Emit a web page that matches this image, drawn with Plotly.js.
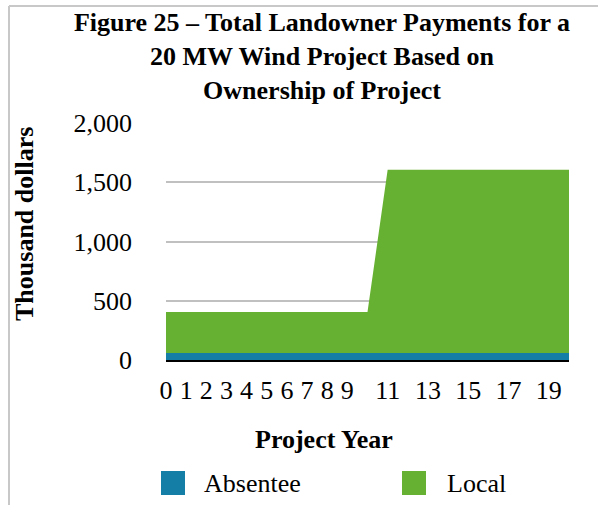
<!DOCTYPE html>
<html>
<head>
<meta charset="utf-8">
<script src="https://cdn.plot.ly/plotly-3.0.1.min.js"></script>
<style>
html, body { margin: 0; padding: 0; background: #ffffff; }
#chart { width: 598px; height: 505px; }
</style>
</head>
<body>
<div id="chart"></div>
<script>
// ---- data ----
const years = [0, 1, 2, 3, 4, 5, 6, 7, 8, 9, 10, 11, 12, 13, 14, 15, 16, 17, 18, 19, 20];
const absentee = [60, 60, 60, 60, 60, 60, 60, 60, 60, 60, 60, 60, 60, 60, 60, 60, 60, 60, 60, 60, 60];
const local = [405, 405, 405, 405, 405, 405, 405, 405, 405, 405, 405, 1605, 1605, 1605, 1605, 1605, 1605, 1605, 1605, 1605, 1605];
const xTickVals = [0, 1, 2, 3, 4, 5, 6, 7, 8, 9, 11, 13, 15, 17, 19];
const xTickText = ['0', '1', '2', '3', '4', '5', '6', '7', '8', '9', '11', '13', '15', '17', '19'];
const yTickVals = [0, 500, 1000, 1500, 2000];
const yTickText = ['0', '500', '1,000', '1,500', '2,000'];
const seriesNames = ['Absentee', 'Local'];
const colors = ['#157ea6', '#67b132'];

// ---- layout geometry (pixels) ----
const W = 598, H = 505, L = 166, R = 29, T = 123, B = 145;
const PW = W - L - R, PH = H - T - B;
const px2x = p => (p - L) / PW;
const py2y = p => (H - B - p) / PH;

const serif = 'Liberation Serif, Times New Roman, serif';

const traces = [
  {
    x: years, y: local, name: seriesNames[1], type: 'scatter', mode: 'lines',
    fill: 'tozeroy', fillcolor: colors[1], line: {width: 0, color: colors[1]},
    hoverinfo: 'skip', showlegend: false
  },
  {
    x: years, y: absentee, name: seriesNames[0], type: 'scatter', mode: 'lines',
    fill: 'tozeroy', fillcolor: colors[0], line: {width: 0, color: colors[0]},
    hoverinfo: 'skip', showlegend: false
  }
];

const legendY = 483;
const shapes = [
  // frame (top and left edge)
  {type: 'line', xref: 'paper', yref: 'paper', x0: px2x(9), x1: px2x(600), y0: py2y(6), y1: py2y(6),
   line: {color: '#c8c8c8', width: 2}},
  {type: 'line', xref: 'paper', yref: 'paper', x0: px2x(9), x1: px2x(9), y0: py2y(6), y1: py2y(510),
   line: {color: '#c8c8c8', width: 2}},
  // legend swatches
  {type: 'rect', xref: 'paper', yref: 'paper', x0: px2x(161), x1: px2x(185), y0: py2y(495), y1: py2y(471),
   fillcolor: colors[0], line: {width: 0}},
  {type: 'rect', xref: 'paper', yref: 'paper', x0: px2x(402), x1: px2x(426), y0: py2y(495), y1: py2y(471),
   fillcolor: colors[1], line: {width: 0}}
];

const annotations = [
  {text: 'Thousand dollars', xref: 'paper', yref: 'paper', x: px2x(24), y: py2y(224),
   xanchor: 'center', yanchor: 'middle', textangle: -90, showarrow: false,
   font: {family: serif, size: 26, color: '#000', weight: 'bold'}},
  {text: 'Project Year', xref: 'paper', yref: 'paper', x: px2x(324), y: py2y(440),
   xanchor: 'center', yanchor: 'middle', showarrow: false,
   font: {family: serif, size: 26, color: '#000', weight: 'bold'}},
  {text: seriesNames[0], xref: 'paper', yref: 'paper', x: px2x(202), y: py2y(legendY),
   xanchor: 'left', yanchor: 'middle', showarrow: false,
   font: {family: serif, size: 26, color: '#000'}},
  {text: seriesNames[1], xref: 'paper', yref: 'paper', x: px2x(445), y: py2y(legendY),
   xanchor: 'left', yanchor: 'middle', showarrow: false,
   font: {family: serif, size: 26, color: '#000'}}
];

const layout = {
  width: W, height: H,
  margin: {l: L, r: R, t: T, b: B, pad: 0},
  paper_bgcolor: '#ffffff', plot_bgcolor: '#ffffff',
  showlegend: false,
  title: {
    text: '<b>Figure 25 – Total Landowner Payments for a<br>20 MW Wind Project Based on<br>Ownership of Project</b>',
    x: 322 / W, xref: 'container', xanchor: 'center',
    y: 1 - 31 / H, yref: 'container', yanchor: 'top',
    font: {family: serif, size: 26, color: '#000'}
  },
  xaxis: {
    range: [0, 20], tickvals: xTickVals, ticktext: xTickText,
    showgrid: false, zeroline: false, showline: true, linecolor: '#000', linewidth: 2,
    ticks: '', ticklabelstandoff: 6,
    tickfont: {family: serif, size: 26, color: '#000'}
  },
  yaxis: {
    range: [0, 2000], tickvals: yTickVals, ticktext: yTickText,
    showgrid: true, gridcolor: '#c0c0c0', gridwidth: 2, zeroline: false, showline: false,
    ticks: '', ticklabelstandoff: 33,
    tickfont: {family: serif, size: 26, color: '#000'}
  },
  shapes: shapes,
  annotations: annotations
};

Plotly.newPlot('chart', traces, layout, {displayModeBar: false, staticPlot: true});
</script>
</body>
</html>
